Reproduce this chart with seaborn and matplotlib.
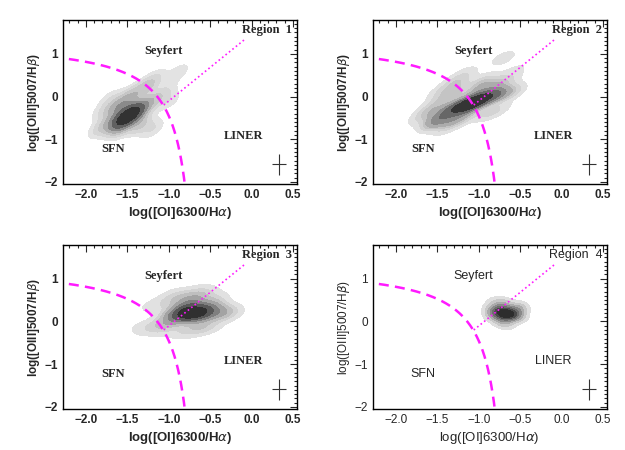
import matplotlib
matplotlib.use('Agg')
import matplotlib.pyplot as plt
import numpy as np
import pandas as pd
import seaborn as sns
from matplotlib.colors import LinearSegmentedColormap
from matplotlib.ticker import MultipleLocator

# density "anchor" points: x = log([OI]/Ha), y = log([OIII]/Hb), w = weight
r1_x = [-1.52, -1.42, -1.60, -1.38, -1.65, -1.75, -1.85, -1.35, -1.20, -1.25, -1.05, -1.00, -0.90, -0.85,
        -1.15, -1.45, -1.70, -1.55, -1.60, -1.30, -1.50, -1.20, -1.80]
r1_y = [-0.52, -0.40, -0.60, -0.30, -0.30, -0.65, -0.78, -0.65, -0.10, 0.25, 0.10, -0.10, 0.50, 0.65,
        0.45, 0.05, -0.05, -0.15, -0.80, 0.20, -0.35, -0.75, -0.35]
r1_w = [10, 8, 6, 5, 3, 2, 1, 3, 2.5, 1.5, 1.2, 1.2, 0.7, 0.5, 1.0, 2, 1.2, 3, 1.5, 1.5, 5, 1.5, 1]

r2_x = [-1.52, -1.40, -1.25, -1.12, -1.05, -0.95, -0.85, -0.75, -0.60, -1.35, -1.60, -1.45, -1.25, -1.15,
        -0.70, -0.55, -0.95, -0.80, -1.70, -1.20, -1.30, -1.00, -0.65, -1.50, -1.40, -0.90, -1.30, -0.75]
r2_y = [-0.58, -0.35, -0.25, -0.20, -0.12, -0.05, 0.02, 0.05, 0.10, -0.55, -0.35, 0.10, 0.30, 0.55,
        0.90, 0.62, 0.35, 0.30, -0.50, -0.50, 0.05, 0.15, 0.35, -0.15, -0.75, -0.40, 0.35, -0.30]
r2_w = [5, 4, 7, 9, 7, 5, 5, 3, 2, 3, 2, 1.5, 1.5, 1.0, 1.2, 0.8, 2, 2, 1, 2.5, 2.5, 2.5, 1.2, 1.5, 1, 1.5,
        1, 1]

r3_x = [-0.70, -0.80, -0.60, -0.90, -0.75, -0.50, -0.40, -0.28, -1.00, -1.10, -1.30, -0.90, -0.60, -0.65,
        -0.85, -0.50, -1.55, -1.20, -0.70, -0.45, -1.00]
r3_y = [0.18, 0.22, 0.20, 0.15, 0.40, 0.35, 0.20, 0.20, 0.00, -0.15, -0.15, 0.60, 0.70, -0.15,
        -0.25, -0.10, -0.58, 0.35, 0.55, 0.55, 0.45]
r3_w = [10, 7, 6, 4, 4, 3, 3, 1.5, 2, 1.5, 1, 1.5, 1.2, 2, 1, 1, 0.4, 0.8, 2, 1, 1]

r4_x = [-0.68, -0.75, -0.60, -0.55, -0.82, -0.70, -0.72, -0.50, -0.85, -0.65, -0.80, -0.50]
r4_y = [0.18, 0.25, 0.15, 0.25, 0.15, 0.42, 0.00, 0.35, 0.30, -0.08, 0.45, 0.10]
r4_w = [10, 5, 5, 3, 2.5, 2, 2, 1.5, 1, 1, 1, 1]

regions = ['Region 1', 'Region 2', 'Region 3', 'Region 4']
bw = [0.8, 0.7, 0.85, 1.1]
mass_levels = [0.04, 0.12, 0.22, 0.34, 0.47, 0.6, 0.76, 1.0]

# Kewley et al. (2006) star-forming / AGN boundary and Seyfert / LINER division
kew_a, kew_b, kew_c = 0.73, 0.59, 1.33
sey_x = [-1.06, -0.08]
sey_y = [-0.20, 1.34]

# typical error bar
err_x, err_y, err_dx, err_dy = 0.33, -1.59, 0.08, 0.24

sns.set_style('white')
plt.rcParams['font.family'] = ['Liberation Sans', 'DejaVu Sans']
plt.rcParams['mathtext.fontset'] = 'dejavusans'

cmap = LinearSegmentedColormap.from_list(
    'grey', [(0, '#e8e8e8'), (0.12, '#c4c4c4'), (0.3, '#8c8c8c'), (0.6, '#4a4a4a'), (1, '#1c1c1c')])

fig = plt.figure(figsize=(6.25, 4.5), dpi=100)
lefts = [0.1003, 0.5963, 0.1003, 0.5963]
bottoms = [0.591, 0.591, 0.0911, 0.0911]
data = [(r1_x, r1_y, r1_w), (r2_x, r2_y, r2_w), (r3_x, r3_y, r3_w), (r4_x, r4_y, r4_w)]

for i in range(4):
    ax = fig.add_axes([lefts[i], bottoms[i], 0.3744, 0.3644])
    df = pd.DataFrame({'x': data[i][0], 'y': data[i][1], 'w': data[i][2]})
    sns.kdeplot(data=df, x='x', y='y', weights='w', fill=True, levels=mass_levels,
                cmap=cmap, bw_adjust=bw[i], ax=ax)

    bold = 'bold' if i < 3 else 'normal'
    xs = np.linspace(-2.4, kew_b * -1 - 0.2, 300)
    ax.plot(xs, kew_a / (xs + kew_b) + kew_c, color='#ff1aff', lw=1.8, dashes=(4, 2.5))
    ax.plot(sey_x, sey_y, color='#ff1aff', lw=1.2, ls=':')
    ax.errorbar([err_x], [err_y], xerr=err_dx, yerr=err_dy, color='#333333', lw=0.8, capsize=0)

    tfam = ['Liberation Serif', 'DejaVu Serif'] if i < 3 else ['Liberation Sans', 'DejaVu Sans']
    ax.text(-1.06, 1.06, 'Seyfert', ha='center', va='center', fontsize=9, fontweight=bold, family=tfam)
    ax.text(-1.67, -1.23, 'SFN', ha='center', va='center', fontsize=9, fontweight=bold, family=tfam)
    ax.text(-0.10, -0.93, 'LINER', ha='center', va='center', fontsize=9, fontweight=bold, family=tfam)
    ax.text(0.49, 1.56, regions[i].replace(' ', '  '), ha='right', va='center', fontsize=9,
            fontweight=bold, family=tfam)

    ax.set_xlim(-2.28, 0.545)
    ax.set_ylim(-2.05, 1.79)
    ax.xaxis.set_major_locator(MultipleLocator(0.5))
    ax.xaxis.set_minor_locator(MultipleLocator(0.1))
    ax.yaxis.set_major_locator(MultipleLocator(1))
    ax.yaxis.set_minor_locator(MultipleLocator(0.1))
    ax.xaxis.set_major_formatter(plt.FuncFormatter(lambda v, p: f'{v:.1f}'.replace('-', '\u2212')))
    ax.yaxis.set_major_formatter(plt.FuncFormatter(lambda v, p: f'{v:.0f}'.replace('-', '\u2212')))
    ax.tick_params(which='both', direction='in', top=True, right=True, width=0.8, labelsize=8.5)
    ax.tick_params(which='major', length=5)
    ax.tick_params(which='minor', length=2.5)
    for lab in ax.get_xticklabels() + ax.get_yticklabels():
        lab.set_fontweight(bold)
    for s in ax.spines.values():
        s.set_linewidth(1.0)
        s.set_color('black')
    ax.set_xlabel(r'log([OI]6300/H$\alpha$)', fontsize=9.5, fontweight=bold, labelpad=3)
    ax.set_ylabel(r'log([OIII]5007/H$\beta$)', fontsize=8.5, fontweight=bold, labelpad=2)

fig.savefig('out.png', dpi=100)
